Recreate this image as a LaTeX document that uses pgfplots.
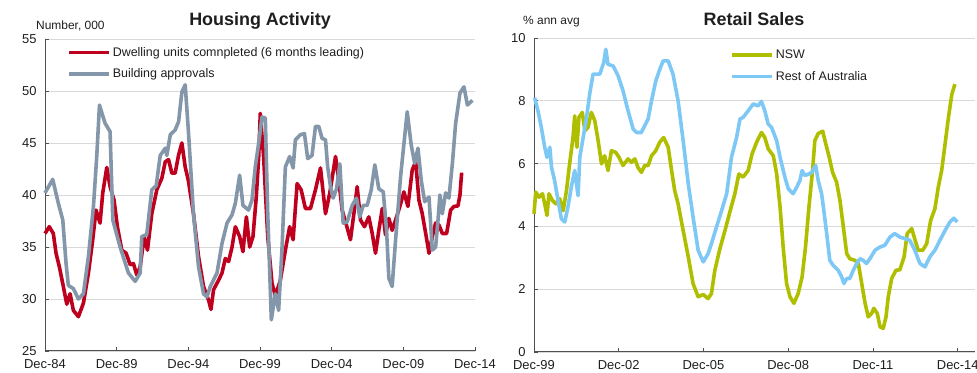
\documentclass[border=0pt]{standalone}
\usepackage{fontspec}
\setmainfont{Liberation Sans}
\usepackage{pgfplots}
\pgfplotsset{compat=1.18}
\definecolor{cred}{RGB}{190,0,30}
\definecolor{cgray}{RGB}{132,151,170}
\definecolor{cgreen}{RGB}{176,190,0}
\definecolor{cblue}{RGB}{125,200,245}
\definecolor{cgrid}{RGB}{217,217,217}
\definecolor{caxis}{RGB}{80,80,80}
\definecolor{ctext}{RGB}{30,30,30}
\pgfplotsset{
  base/.style={
    scale only axis,
    axis x line*=bottom, axis y line*=left,
    axis line style={caxis, line width=1bp},
    tick style={caxis, line width=0.8bp},
    tick align=inside,
    major tick length=4bp,
    ymajorgrids, grid style={cgrid, line width=0.8bp},
    /pgf/number format/assume math mode=true,
    tick label style={font=\fontsize{13}{15}\selectfont, text=ctext},
    xticklabel style={yshift=-5bp},
    yticklabel style={xshift=-5bp},
    legend style={draw=none, fill=none, inner sep=0pt, row sep=7bp,
      font=\fontsize{12.5}{14}\selectfont, text=ctext, cells={anchor=west}},
    legend image code/.code={\draw[#1] (0bp,0bp) -- (40bp,0bp);},
    every axis plot/.append style={line width=3.6bp, line join=round, no marks},
    clip=false,
  }
}
\begin{document}
\begin{tikzpicture}
\useasboundingbox (0,0) rectangle (977bp,373bp);
% ---------------- Housing Activity ----------------
\begin{axis}[base,
  at={(45bp,22bp)}, anchor=south west,
  width=430bp, height=312bp,
  xmin=0, xmax=30, ymin=25, ymax=55,
  xtick={0,5,10,15,20,25,30},
  xticklabels={Dec-84,Dec-89,Dec-94,Dec-99,Dec-04,Dec-09,Dec-14},
  ytick={25,30,35,40,45,50,55},
  legend style={at={(22bp,306bp)}, anchor=north west},
]
\addplot[cred] coordinates {
(0,36.3)(0.3,36.95)(0.58,36.3)(0.77,34.4)(1.0,33.1)(1.28,31.2)(1.52,29.5)(1.75,30.5)(1.98,28.9)(2.33,28.3)
(2.68,29.6)(3.03,32.5)(3.33,35.7)(3.56,38.55)(3.84,37.3)(4.03,40.2)(4.31,42.65)(4.54,40.8)(4.82,39.5)(5.05,36.95)
(5.36,34.7)(5.66,34.4)(5.94,33.3)(6.17,33.4)(6.41,32.3)(6.64,33.1)(6.92,36.0)(7.15,34.7)(7.45,38.2)(7.8,40.5)
(8.15,41.6)(8.39,43.2)(8.62,43.4)(8.85,42.1)(9.08,42.1)(9.32,43.85)(9.55,45.0)(9.78,42.7)(10.0,41.4)(10.36,38.2)
(10.71,34.1)(11.06,31.2)(11.41,29.9)(11.58,29.0)(11.76,30.9)(12.11,31.8)(12.35,32.5)(12.58,33.9)(12.81,33.6)(13.05,35.0)
(13.28,36.95)(13.58,36.0)(13.81,34.55)(14.05,37.9)(14.28,35.0)(14.51,36.0)(14.74,39.8)(14.91,43.7)(15.02,47.85)(15.25,43.7)
(15.54,36.0)(15.84,31.5)(16.07,30.3)(16.42,31.8)(16.77,34.7)(17.07,36.95)(17.31,35.7)(17.59,41.1)(17.87,40.5)(18.17,38.7)
(18.52,38.7)(18.87,40.5)(19.22,42.6)(19.57,38.2)(19.87,40.2)(20.27,43.7)(20.5,41.4)(20.73,38.55)(21.03,37.1)(21.31,35.7)
(21.55,38.2)(21.78,40.8)(22.01,37.6)(22.29,36.95)(22.59,37.9)(22.83,36.3)(23.06,34.4)(23.29,36.6)(23.53,38.7)(23.76,36.15)
(23.99,37.75)(24.22,36.6)(24.46,37.6)(24.76,38.9)(25.04,40.3)(25.32,38.9)(25.62,42.4)(25.86,43.2)(26.09,39.5)(26.32,38.2)
(26.56,36.3)(26.79,34.4)(27.02,36.0)(27.25,37.3)(27.49,37.1)(27.72,36.3)(28.02,36.3)(28.3,38.55)(28.53,38.9)(28.81,38.95)
(28.95,40.0)(29.07,42.15)
};
\addlegendentry{Dwelling units comnpleted (6 months leading)}
\addplot[cgray] coordinates {
(0,40.2)(0.54,41.5)(0.93,39.2)(1.24,37.6)(1.47,33.4)(1.63,31.3)(1.98,31.0)(2.33,30.0)(2.68,30.5)(3.03,34.1)
(3.38,38.9)(3.61,43.7)(3.8,48.65)(4.19,46.9)(4.54,46.1)(4.73,37.6)(5.24,35.0)(5.82,32.5)(6.29,31.7)(6.64,32.5)
(6.75,36.0)(7.1,36.2)(7.45,40.5)(7.76,40.9)(8.04,43.8)(8.39,44.5)(8.5,43.8)(8.74,45.8)(9.08,46.25)(9.32,47.05)
(9.55,49.9)(9.78,50.6)(10.0,46.25)(10.36,38.2)(10.71,33.1)(11.06,30.5)(11.3,30.2)(11.53,31.2)(12.0,32.5)(12.35,35.35)
(12.7,37.3)(13.05,38.1)(13.28,39.2)(13.58,41.9)(13.81,39.0)(14.2,38.55)(14.44,39.5)(14.67,42.7)(14.91,45.0)(15.14,47.5)
(15.37,47.4)(15.54,38.2)(15.79,28.0)(16.07,30.5)(16.3,28.9)(16.54,35.0)(16.77,42.7)(17.07,43.7)(17.31,42.6)(17.47,45.3)
(17.82,45.8)(18.1,45.9)(18.33,43.5)(18.63,43.8)(18.87,46.6)(19.1,46.6)(19.33,45.45)(19.57,45.3)(19.72,42.7)(19.92,40.8)
(20.1,39.7)(20.34,40.6)(20.57,43.0)(20.8,37.3)(21.08,37.4)(21.43,39.0)(21.73,39.7)(21.96,37.9)(22.2,39.0)(22.48,39.0)
(22.76,40.5)(23.01,42.9)(23.29,40.6)(23.6,40.3)(23.83,36.6)(23.99,32.0)(24.22,31.2)(24.46,35.7)(24.81,41.8)(25.27,48.0)
(25.55,44.8)(25.79,43.05)(26.02,44.5)(26.25,41.4)(26.49,39.35)(26.79,39.8)(27.02,34.7)(27.25,35.0)(27.42,37.6)(27.55,40.0)
(27.72,38.2)(27.95,40.2)(28.18,39.7)(28.42,43.0)(28.65,46.9)(28.95,49.8)(29.23,50.4)(29.47,48.65)(29.82,49.1)
};
\addlegendentry{Building approvals}
\end{axis}
% ---------------- Retail Sales ----------------
\begin{axis}[base,
  at={(534bp,21bp)}, anchor=south west,
  width=441bp, height=314bp,
  xmin=0, xmax=15.61, ymin=0, ymax=10,
  xtick={0,3,6,9,12,15},
  xticklabels={Dec-99,Dec-02,Dec-05,Dec-08,Dec-11,Dec-14},
  ytick={0,2,4,6,8,10},
  legend style={at={(196bp,304bp)}, anchor=north west},
]
\addplot[cgreen] coordinates {
(0.0,4.4)(0.06,5.09)(0.18,4.93)(0.3,5.04)(0.38,4.72)(0.46,4.35)(0.53,5.04)(0.65,4.83)(0.77,4.72)(0.91,4.88)
(1.03,4.5)(1.15,5.14)(1.26,5.99)(1.38,6.83)(1.44,7.52)(1.52,6.52)(1.59,7.47)(1.71,7.63)(1.8,7.05)(1.91,7.15)
(2.03,7.63)(2.15,7.37)(2.27,6.73)(2.39,5.99)(2.5,6.25)(2.62,5.78)(2.74,6.41)(2.89,6.36)(3.01,6.2)(3.15,5.94)
(3.33,6.15)(3.45,6.04)(3.57,6.15)(3.68,5.88)(3.8,5.72)(3.92,5.94)(4.04,5.94)(4.16,6.25)(4.31,6.41)(4.45,6.68)
(4.59,6.83)(4.75,6.52)(4.87,5.78)(4.98,5.14)(5.1,4.72)(5.28,3.87)(5.46,3.03)(5.63,2.18)(5.81,1.76)(5.99,1.83)
(6.16,1.7)(6.28,1.86)(6.4,2.6)(6.58,3.29)(6.76,3.87)(6.93,4.45)(7.11,5.04)(7.25,5.67)(7.4,5.57)(7.58,5.78)
(7.72,6.31)(7.88,6.68)(8.05,6.99)(8.17,6.83)(8.29,6.47)(8.47,6.25)(8.59,5.67)(8.71,4.61)(8.82,3.34)(8.94,2.18)
(9.06,1.76)(9.2,1.55)(9.35,1.86)(9.49,2.39)(9.61,3.34)(9.73,4.6)(9.86,5.78)(9.94,6.73)(10.06,6.96)(10.22,7.03)
(10.33,6.62)(10.45,6.2)(10.57,5.72)(10.71,5.41)(10.83,4.83)(10.95,3.98)(11.07,3.13)(11.18,2.97)(11.36,2.92)(11.48,2.82)
(11.6,2.18)(11.72,1.55)(11.83,1.12)(11.95,1.23)(12.03,1.39)(12.15,1.23)(12.25,0.8)(12.36,0.75)(12.46,1.12)(12.54,1.76)
(12.66,2.34)(12.81,2.6)(12.95,2.62)(13.1,3.03)(13.21,3.77)(13.37,3.93)(13.49,3.56)(13.6,3.24)(13.76,3.24)(13.9,3.45)
(14.04,4.19)(14.19,4.56)(14.31,5.25)(14.43,5.78)(14.55,6.62)(14.67,7.47)(14.79,8.21)(14.9,8.53)
};
\addlegendentry{NSW}
\addplot[cblue] coordinates {
(0.02,8.1)(0.14,7.68)(0.26,7.15)(0.38,6.52)(0.46,6.2)(0.56,6.52)(0.62,5.88)(0.73,5.46)(0.85,4.83)(0.97,4.24)
(1.09,4.14)(1.2,4.61)(1.32,5.25)(1.44,5.78)(1.56,4.98)(1.62,6.2)(1.74,6.83)(1.86,7.47)(1.97,8.21)(2.09,8.85)
(2.33,8.85)(2.47,9.22)(2.54,9.64)(2.62,9.16)(2.8,9.11)(2.98,8.79)(3.15,8.32)(3.33,7.68)(3.51,7.1)(3.63,6.99)
(3.8,6.99)(3.92,7.21)(4.04,7.42)(4.16,8.0)(4.31,8.63)(4.45,9.0)(4.57,9.27)(4.69,9.27)(4.75,9.27)(4.92,8.85)
(5.1,8.0)(5.28,6.73)(5.46,5.36)(5.63,4.3)(5.81,3.24)(5.99,2.87)(6.16,3.13)(6.28,3.45)(6.46,3.98)(6.64,4.5)
(6.82,5.04)(6.99,6.2)(7.17,6.83)(7.29,7.42)(7.4,7.47)(7.58,7.68)(7.76,7.9)(7.93,7.84)(8.05,7.98)(8.17,7.68)
(8.29,7.26)(8.41,7.15)(8.59,6.73)(8.71,6.2)(8.88,5.57)(9.0,5.2)(9.17,5.04)(9.3,5.25)(9.41,5.46)(9.49,5.78)
(9.59,5.62)(9.73,5.67)(9.83,5.72)(9.97,5.94)(10.06,5.46)(10.18,5.04)(10.26,4.5)(10.36,3.77)(10.47,2.92)(10.59,2.76)
(10.77,2.6)(10.89,2.39)(10.97,2.18)(11.07,2.34)(11.18,2.34)(11.3,2.6)(11.42,2.82)(11.54,2.97)(11.65,2.92)(11.77,2.82)
(11.89,2.97)(12.07,3.24)(12.24,3.34)(12.42,3.4)(12.6,3.66)(12.77,3.77)(12.95,3.66)(13.13,3.61)(13.3,3.56)(13.48,3.24)
(13.66,2.82)(13.84,2.71)(14.01,3.03)(14.19,3.24)(14.37,3.56)(14.55,3.87)(14.72,4.14)(14.86,4.26)(14.98,4.14)
};
\addlegendentry{Rest of Australia}
\end{axis}
% titles and unit labels
\node[anchor=base, font=\bfseries\fontsize{18}{20}\selectfont, text=ctext] at (260bp,347bp) {Housing Activity};
\node[anchor=base, font=\bfseries\fontsize{18}{20}\selectfont, text=ctext] at (754bp,347bp) {Retail Sales};
\node[anchor=base west, inner sep=0pt, font=\fontsize{12}{14}\selectfont, text=ctext] at (36bp,343.5bp) {Number, 000};
\node[anchor=base west, inner sep=0pt, font=\fontsize{12}{14}\selectfont, text=ctext] at (523bp,348bp) {\% ann avg};
\end{tikzpicture}
\end{document}
